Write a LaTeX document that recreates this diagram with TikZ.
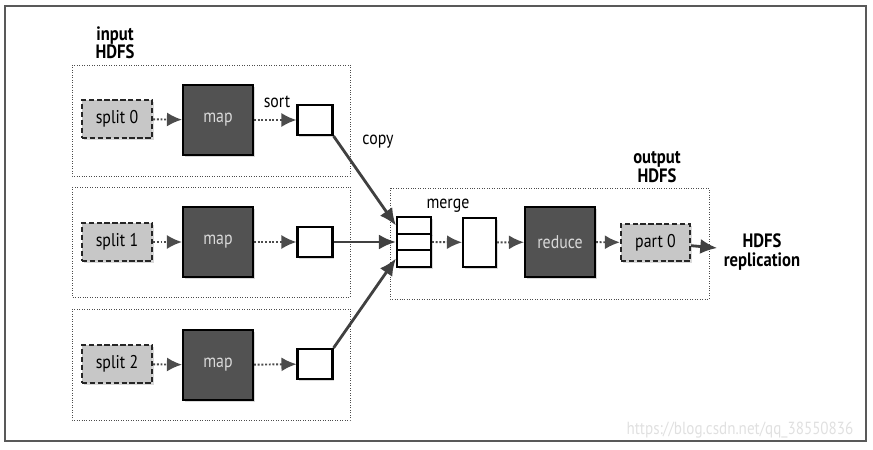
\documentclass[tikz,border=0pt]{standalone}
\usepackage{fontspec}
\setmainfont{PT Sans}[FakeStretch=0.86]
\usepackage{tikz}
\usetikzlibrary{calc,shapes,positioning,arrows.meta,shadows}

\begin{document}
\begin{tikzpicture}[x=0.02cm,y=-0.02cm,
thick,black!75,text=black,font=\fontsize{10.5}{11}\selectfont,
shade/.style={drop shadow={opacity=.3,shadow xshift=1pt,shadow yshift=-1pt}},
split/.style={draw=black!85,line width=1.3pt,dash pattern=on 3pt off 1.5pt,fill=black!22,
  minimum width=1.4cm,minimum height=.76cm,shade},
task/.style={draw=black,line width=1.2pt,fill=black!68,text=white!85!black,
  minimum width=1.4cm,minimum height=1.4cm,shade},
buf/.style={draw=black,line width=1.2pt,fill=white,minimum width=#1,shade},
hdfs/.style={draw=black!70,thin,densely dotted},
flow/.style={-{Latex[length=3mm,width=2.8mm]},black!70,line width=1.1pt,densely dotted},
copyline/.style={-{Latex[length=3.4mm,width=3mm]},black!75,line width=1.6pt},
title/.style={font=\fontsize{11}{10.5}\bfseries,align=center}]
\useasboundingbox (0,0) rectangle (873,450);
\draw[black!65,line width=1.1pt] (5,6) rectangle (866,441);
% input side
\node (inlbl) at (115,43)[title]{input\\HDFS};
\draw[hdfs] (72,65) rectangle (350,176);
\draw[hdfs] (72,187) rectangle (350,297);
\draw[hdfs] (72,309) rectangle (350,420);
\node (split0) at (117,119)[split]{split 0};
\node (split1) at (117,242)[split]{split 1};
\node (split2) at (117,364)[split]{split 2};
\node (map0) at (218,120)[task]{map};
\node (map1) at (218,242)[task]{map};
\node (map2) at (218,365)[task]{map};
\node (buf0) at (315,120)[buf=.7cm,minimum height=.6cm]{};
\node (buf1) at (315,242)[buf=.7cm,minimum height=.6cm]{};
\node (buf2) at (315,364)[buf=.7cm,minimum height=.6cm]{};
\node (sortlbl) at (277,102){sort};
\node (copylbl) at (378,142){copy};
\draw[flow] (split0) -- (map0);
\draw[flow] (split1) -- (map1);
\draw[flow] (split2) -- (map2);
\draw[flow] (map0) -- (buf0);
\draw[flow] (map1) -- (buf1);
\draw[flow] (map2) -- (buf2);
% output side
\node (outlbl) at (657,167)[title]{output\\HDFS};
\draw[hdfs] (390,188) rectangle (709,299);
\node (m1) at (414,225.5)[buf=.68cm,minimum height=.335cm,drop shadow={opacity=0}]{};
\node (m2) at (414,242)[buf=.68cm,minimum height=.335cm]{};
\node (m3) at (414,258.5)[buf=.68cm,minimum height=.335cm]{};
\node (mergelbl) at (448,206){merge};
\node (sorted) at (479.5,242.5)[buf=.66cm,minimum height=.98cm]{};
\node (reduce) at (560,242)[task]{reduce};
\node (part0) at (655.5,242.5)[split,minimum width=1.38cm,minimum height=.74cm]{part 0};
\node (repl) at (762,252)[title]{HDFS\\replication};
\draw[copyline] (buf0.south east) -- (m1.west);
\draw[copyline] (buf1.east) -- (m2.west);
\draw[copyline] (buf2.north east) -- (m3.west);
\draw[flow] (m2.east) -- (sorted);
\draw[flow] (sorted) -- (reduce);
\draw[flow] (reduce) -- (part0);
\draw[copyline] (part0) -- (repl);
\node (mark) at (740,430)[text=black!12,font=\fontsize{10}{10}\selectfont]{https://blog.csdn.net/qq\_38550836};
\end{tikzpicture}
\end{document}
